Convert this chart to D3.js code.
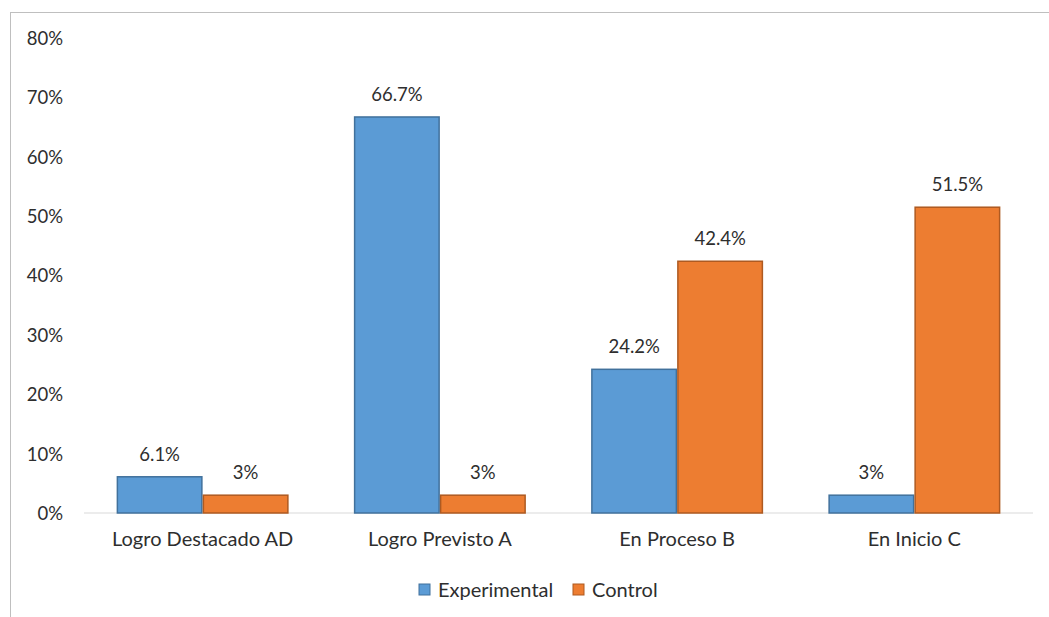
<!DOCTYPE html>
<html>
<head>
<meta charset="utf-8">
<script src="https://cdn.jsdelivr.net/npm/d3@7"></script>
<style>
  html, body { margin: 0; padding: 0; background: #fff; }
  svg { display: block; font-family: Lato, "Open Sans", sans-serif; }
</style>
</head>
<body>
<svg id="chart" width="1049" height="617"></svg>
<script>
const categories = ["Logro Destacado AD", "Logro Previsto A", "En Proceso B", "En Inicio C"];
const seriesNames = ["Experimental", "Control"];
const experimental = [6.1, 66.7, 24.2, 3.0];
const control = [3.0, 3.0, 42.4, 51.5];
const experimentalLabels = ["6.1%", "66.7%", "24.2%", "3%"];
const controlLabels = ["3%", "3%", "42.4%", "51.5%"];
const yTicks = [0, 10, 20, 30, 40, 50, 60, 70, 80];

const colors = { Experimental: "#5B9BD5", Control: "#ED7D31" };
const strokes = { Experimental: "#41719C", Control: "#AE5A21" };
const textColor = "#2e2e2e";

const svg = d3.select("#chart");

// outer chart border
svg.append("rect")
  .attr("x", 10.5).attr("y", 12.5)
  .attr("width", 1100).attr("height", 700)
  .attr("fill", "none").attr("stroke", "#bfbfbf").attr("stroke-width", 1);

const plot = { left: 84, right: 1033, top: 38, bottom: 513 };

const x0 = d3.scaleBand().domain(categories)
  .range([plot.left, plot.right]).paddingInner(0.275).paddingOuter(0.1375);
const x1 = d3.scaleBand().domain(seriesNames).range([0, x0.bandwidth()]);
const y = d3.scaleLinear().domain([0, 80]).range([plot.bottom, plot.top]);

// y axis labels
const yAxis = d3.axisLeft(y).tickValues(yTicks).tickFormat(d => d + "%").tickSize(0).tickPadding(0);
const yg = svg.append("g").attr("transform", `translate(63,0)`).call(yAxis);
yg.select(".domain").remove();
yg.selectAll("text").attr("font-size", 18.5).attr("fill", textColor)
  .attr("font-family", "Lato, sans-serif").attr("dy", "0.35em");

// baseline + category labels
const xAxis = d3.axisBottom(x0).tickSize(0).tickPadding(19);
const xg = svg.append("g").attr("transform", `translate(0,${plot.bottom})`).call(xAxis);
xg.select(".domain").attr("stroke", "#d9d9d9").attr("stroke-width", 1.2)
  .attr("d", `M${plot.left},0H${plot.right}`);
xg.selectAll("text").attr("font-size", 20).attr("fill", textColor)
  .attr("font-family", "Lato, sans-serif").attr("dy", "0.71em");

const rows = categories.map((c, i) => ({
  cat: c,
  vals: [
    { s: "Experimental", v: experimental[i], label: experimentalLabels[i] },
    { s: "Control", v: control[i], label: controlLabels[i] }
  ]
}));

const groups = svg.append("g").selectAll("g").data(rows).join("g")
  .attr("transform", d => `translate(${x0(d.cat)},0)`);

groups.selectAll("rect").data(d => d.vals).join("rect")
  .attr("x", d => x1(d.s) + 0.75)
  .attr("width", x1.bandwidth() - 1.5)
  .attr("y", d => y(d.v))
  .attr("height", d => y(0) - y(d.v))
  .attr("fill", d => colors[d.s])
  .attr("stroke", d => strokes[d.s])
  .attr("stroke-width", 1.5);

groups.selectAll("text.lbl").data(d => d.vals).join("text")
  .attr("class", "lbl")
  .attr("x", d => x1(d.s) + x1.bandwidth() / 2)
  .attr("y", d => y(d.v) - 16)
  .attr("text-anchor", "middle")
  .attr("font-size", 18.5)
  .attr("fill", textColor)
  .text(d => d.label);

// legend
const legendItems = [
  { s: "Experimental", x: 419 },
  { s: "Control", x: 573 }
];
const lg = svg.append("g").selectAll("g").data(legendItems).join("g")
  .attr("transform", d => `translate(${d.x},584)`);
lg.append("rect").attr("width", 11).attr("height", 11)
  .attr("fill", d => colors[d.s]).attr("stroke", d => strokes[d.s]).attr("stroke-width", 1);
lg.append("text").attr("x", 19).attr("y", 5.5).attr("dy", "0.35em")
  .attr("font-size", 20).attr("fill", textColor).text(d => d.s);
</script>
</body>
</html>
